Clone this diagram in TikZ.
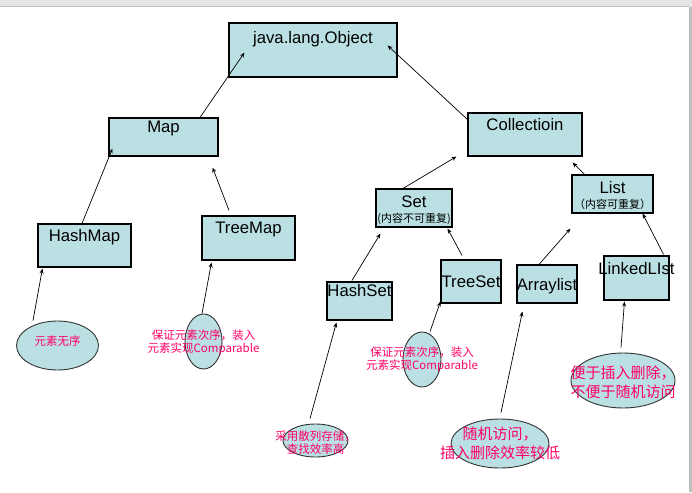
\documentclass[tikz,border=0pt]{standalone}
\usepackage{fontspec}
\setmainfont{Liberation Sans}
\newfontfamily\cjk{Noto Sans CJK SC}
\usetikzlibrary{shapes.geometric,arrows.meta}
\definecolor{clsfill}{RGB}{187,224,227}
\definecolor{notecol}{RGB}{255,0,102}
\tikzset{
  cls/.style={draw, line width=1.1pt, fill=clsfill, inner sep=0pt},
  clsname/.style={anchor=base, inner sep=0pt, font=\fontsize{16.7}{20}\selectfont},
  clssub/.style={anchor=base, inner sep=0pt, font=\cjk\fontsize{11}{13}\selectfont},
  bubble/.style={ellipse, draw=black!80, line width=0.9pt, fill=clsfill, inner sep=0pt},
  note/.style={text=notecol, align=center, inner sep=0pt, font=\cjk\fontsize{11.5}{12.5}\selectfont},
  bignote/.style={note, font=\cjk\fontsize{15}{18.5}\selectfont},
  isa/.style={-{Stealth[length=5pt,width=4pt]}, line width=0.7pt},
}
\begin{document}
\begin{tikzpicture}[x=1pt, y=-1pt]
        \useasboundingbox (0,0) rectangle (692,492);
        \fill[black!10] (0,0) rectangle (692,7);
        \draw[black!25, line width=1pt] (0,7) -- (689,7);
        \fill[black!25] (689,7) rectangle (692,492);

        % classes and interfaces
        \node[cls, minimum width=168, minimum height=54, label={[clsname, yshift=-21pt]north:java.lang.Object}] (obj) at (313,50) {};
        \node[cls, minimum width=109, minimum height=38, label={[clsname, yshift=-15pt]north:Map}] (map) at (163.5,137) {};
        \node[cls, minimum width=114, minimum height=43, label={[clsname, yshift=-18pt]north:Collectioin}] (col) at (525,134.5) {};
        \node[cls, minimum width=93, minimum height=43, label={[clsname, yshift=-18pt]north:HashMap}] (hmap) at (84.5,245.5) {};
        \node[cls, minimum width=93, minimum height=44, label={[clsname, yshift=-18pt]north:TreeMap}] (tmap) at (248.5,238) {};
        \node[cls, minimum width=76, minimum height=38, label={[clsname, yshift=-19pt]north:Set}, label={[clssub, yshift=-34pt]north:(内容不可重复)}] (set) at (414,208) {};
        \node[cls, minimum width=81, minimum height=38, label={[clsname, yshift=-19pt]north:List}, label={[clssub, yshift=-34pt]north:（内容可重复）}] (list) at (612.5,194) {};
        \node[cls, minimum width=65, minimum height=38, label={[clsname, yshift=-15pt]north:HashSet}] (hset) at (359.5,301) {};
        \node[cls, minimum width=60, minimum height=43, label={[clsname, yshift=-28pt]north:TreeSet}] (tset) at (471,281.5) {};
        \node[cls, minimum width=60, minimum height=38, label={[clsname, yshift=-26pt]north:Arraylist}] (alist) at (547,284) {};
        \node[cls, minimum width=65, minimum height=44, label={[clsname, yshift=-19pt]north:LinkedLIst}] (llist) at (636.5,278) {};

        % notes
        \node[bubble, minimum width=82, minimum height=49, label={[note, yshift=4pt]center:元素无序}] (hmapnote) at (57.5,345.5) {};
        \node[bubble, minimum width=37, minimum height=55, label={[note, yshift=-1pt]center:保证元素次序，装入\\元素实现Comparable}] (tmapnote) at (203.5,341.5) {};
        \node[bubble, minimum width=65, minimum height=33, label={[note, yshift=-2pt]center:采用散列存储，\\查找效率高}] (hsetnote) at (315.5,440.5) {};
        \node[bubble, minimum width=38, minimum height=55, label={[note]center:保证元素次序，装入\\元素实现Comparable}] (tsetnote) at (422,359.5) {};
        \node[bubble, minimum width=98, minimum height=49, label={[bignote]center:随机访问，\\插入删除效率较低}] (alistnote) at (500,443.5) {};
        \node[bubble, minimum width=104, minimum height=55, label={[bignote, yshift=-2pt]center:便于插入删除，\\不便于随机访问}] (llistnote) at (623,380.5) {};

        % inheritance
        \draw[isa] ([xshift=36.5pt]map.north) -- ([xshift=16pt,yshift=25pt]obj.south west);
        \draw[isa] ([yshift=-7pt]col.north west) -- ([xshift=-10pt,yshift=-23pt]obj.north east);
        \draw[isa] ([xshift=-2.5pt]hmap.north) -- ([xshift=4pt,yshift=8pt]map.south west);
        \draw[isa] ([xshift=-19.5pt,yshift=5pt]tmap.north) -- ([xshift=-6pt,yshift=-11pt]map.south east);
        \draw[isa] ([xshift=-11pt]set.north) -- ([xshift=-11pt]col.south west);
        \draw[isa] ([xshift=13pt]list.north west) -- ([xshift=-10pt,yshift=-6pt]col.south east);
        \draw[isa] ([xshift=-7.5pt,yshift=1pt]hset.north) -- ([xshift=5pt,yshift=-6pt]set.south west);
        \draw[isa] ([xshift=-9pt,yshift=4pt]tset.north) -- ([xshift=-5pt,yshift=-1pt]set.south east);
        \draw[isa] ([xshift=-8pt]alist.north) -- ([xshift=-1pt,yshift=-15pt]list.south west);
        \draw[isa] ([xshift=-6pt,yshift=1pt]llist.north east) -- ([xshift=-11pt]list.south east);

        %      notes point at their class
        \draw[isa] ([xshift=-24.5pt]hmapnote.north) -- ([xshift=5pt,yshift=-1pt]hmap.south west);
        \draw[isa] ([xshift=-1.5pt]tmapnote.north) -- ([xshift=10pt,yshift=-2pt]tmap.south west);
        \draw[isa] ([xshift=-5.5pt,yshift=5pt]hsetnote.north) -- ([xshift=10pt,yshift=-2pt]hset.south west);
        \draw[isa] ([xshift=8pt]tsetnote.north) -- ([yshift=2pt]tset.south west);
        \draw[isa] ([xshift=1pt,yshift=6pt]alistnote.north) -- ([xshift=6pt,yshift=-8pt]alist.south west);
        \draw[isa] ([xshift=-2pt,yshift=5pt]llistnote.north) -- ([xshift=21pt,yshift=-1pt]llist.south west);
\end{tikzpicture}
\end{document}
